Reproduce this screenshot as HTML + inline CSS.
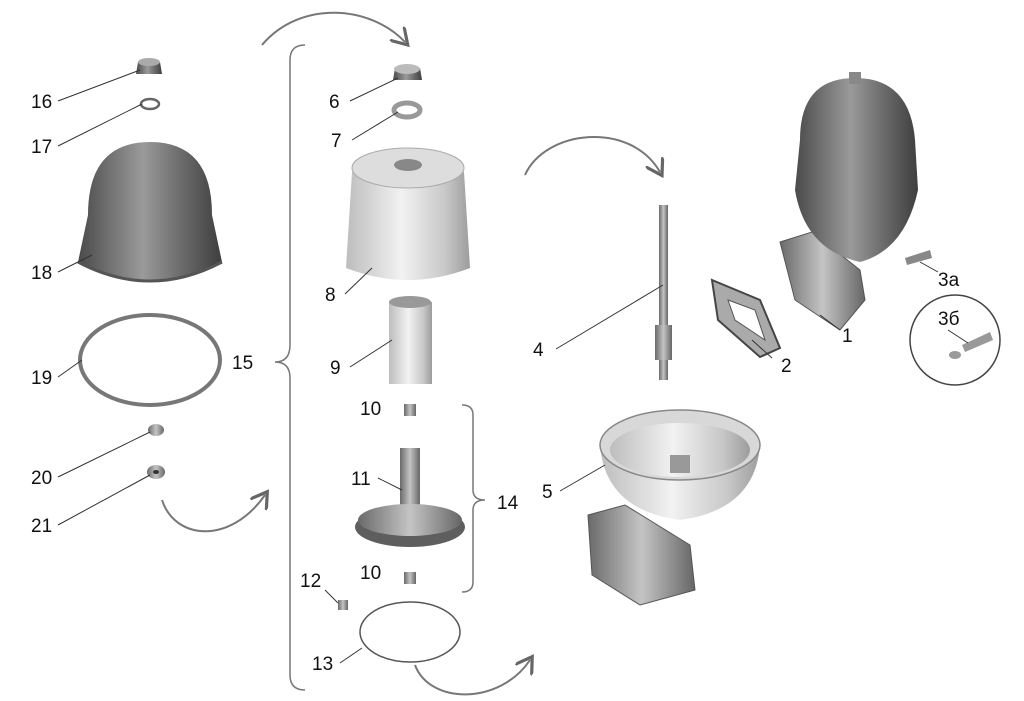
<!DOCTYPE html>
<html><head><meta charset="utf-8"><style>
html,body{margin:0;padding:0;background:#fff;}
svg{display:block;}
text{font-family:"Liberation Sans",sans-serif;font-size:19px;fill:#111;}
</style></head><body>
<svg width="1024" height="701" viewBox="0 0 1024 701" xmlns="http://www.w3.org/2000/svg">
<defs>
<linearGradient id="dk" x1="0" x2="1"><stop offset="0" stop-color="#4a4a4a"/><stop offset="0.45" stop-color="#9a9a9a"/><stop offset="0.7" stop-color="#6e6e6e"/><stop offset="1" stop-color="#3e3e3e"/></linearGradient>
<linearGradient id="lt" x1="0" x2="1"><stop offset="0" stop-color="#bdbdbd"/><stop offset="0.45" stop-color="#f2f2f2"/><stop offset="0.8" stop-color="#c8c8c8"/><stop offset="1" stop-color="#9c9c9c"/></linearGradient>
<linearGradient id="md" x1="0" x2="1"><stop offset="0" stop-color="#6a6a6a"/><stop offset="0.5" stop-color="#c4c4c4"/><stop offset="1" stop-color="#666"/></linearGradient>
<marker id="ah" markerWidth="10" markerHeight="10" refX="6" refY="5" orient="auto"><path d="M0,0 L8,5 L0,10" fill="none" stroke="#666" stroke-width="1.6"/></marker>
</defs>
<g fill="none" stroke="#777" stroke-width="2">
<path d="M262,45 C300,0 370,5 405,42" marker-end="url(#ah)"/>
<path d="M162,500 C175,540 230,545 265,495" marker-end="url(#ah)"/>
<path d="M525,175 C545,130 630,120 660,172" marker-end="url(#ah)"/>
<path d="M415,665 C430,705 500,705 530,660" marker-end="url(#ah)"/>
</g>
<g fill="none" stroke="#777" stroke-width="1.5">
<path d="M305,45 Q290,45 290,60 L290,345 Q290,362 275,362 Q290,362 290,378 L290,675 Q290,690 305,690"/>
<path d="M462,405 Q473,405 473,415 L473,490 Q473,500 485,500 Q473,500 473,510 L473,582 Q473,592 462,592"/>
</g>
<!-- left parts -->
<path d="M138,62 L160,62 L162,74 L136,74 Z" fill="url(#dk)"/><ellipse cx="149" cy="62" rx="11" ry="4" fill="#aaa"/>
<ellipse cx="150" cy="104" rx="9" ry="5" fill="none" stroke="#666" stroke-width="2.5"/>
<path d="M88,215 Q88,142 150,142 Q212,142 212,215 L222,262 Q150,300 78,262 Z" fill="url(#dk)"/>
<path d="M78,262 Q150,300 222,262" fill="none" stroke="#555" stroke-width="3"/>
<ellipse cx="150" cy="360" rx="70" ry="45" fill="none" stroke="#777" stroke-width="4"/>
<ellipse cx="156" cy="430" rx="8" ry="6" fill="url(#md)"/>
<ellipse cx="156" cy="472" rx="9" ry="7" fill="url(#md)"/><ellipse cx="156" cy="472" rx="3" ry="2" fill="#333"/>
<!-- center parts -->
<path d="M395,68 L420,68 L422,80 L393,80 Z" fill="url(#dk)"/><ellipse cx="407" cy="69" rx="13" ry="5" fill="#bbb"/>
<ellipse cx="407" cy="110" rx="13" ry="7" fill="none" stroke="#999" stroke-width="5"/>
<path d="M352,172 Q408,150 464,172 L470,268 Q408,292 346,268 Z" fill="url(#lt)"/>
<ellipse cx="408" cy="168" rx="56" ry="20" fill="#ddd" stroke="#aaa"/><ellipse cx="408" cy="165" rx="14" ry="6" fill="#888"/>
<rect x="389" y="302" width="43" height="82" fill="url(#lt)"/><ellipse cx="410" cy="302" rx="21" ry="6" fill="#999"/>
<rect x="404" y="404" width="12" height="12" fill="url(#md)"/>
<rect x="400" y="448" width="20" height="70" fill="url(#md)"/>
<ellipse cx="410" cy="527" rx="55" ry="20" fill="#5e5e5e"/><ellipse cx="410" cy="520" rx="52" ry="16" fill="url(#md)"/>
<rect x="404" y="572" width="12" height="12" fill="url(#md)"/>
<rect x="338" y="600" width="10" height="10" fill="url(#md)"/>
<ellipse cx="410" cy="632" rx="50" ry="30" fill="none" stroke="#555" stroke-width="1.5"/>
<!-- right parts -->
<rect x="659" y="205" width="9" height="175" fill="url(#md)"/><rect x="655" y="325" width="17" height="35" fill="url(#md)"/>
<path d="M712,280 L760,300 L780,348 L760,357 L718,320 Z" fill="#aaa" stroke="#444" stroke-width="2"/>
<path d="M728,300 L755,310 L765,340 L735,320 Z" fill="#fff" stroke="#555"/>
<path d="M780,242 L812,232 L860,270 L865,300 L840,330 L795,300 Z" fill="url(#md)" stroke="#555"/>
<path d="M800,140 Q800,78 855,78 Q910,78 915,140 L918,190 Q905,250 860,262 Q805,250 795,190 Z" fill="url(#dk)"/>
<rect x="849" y="72" width="12" height="12" fill="#888"/>
<path d="M905,258 L930,250 L932,258 L907,265 Z" fill="#888"/>
<circle cx="955" cy="340" r="45" fill="none" stroke="#444" stroke-width="1.5"/>
<path d="M962,345 L990,332 L993,340 L965,352 Z" fill="#999"/><ellipse cx="955" cy="355" rx="6" ry="4" fill="#999"/>
<path d="M588,515 L625,505 L690,545 L695,590 L640,605 L592,575 Z" fill="url(#md)" stroke="#555"/>
<path d="M600,445 Q605,510 680,520 Q755,510 760,445 Z" fill="url(#lt)"/>
<ellipse cx="680" cy="445" rx="80" ry="35" fill="#d8d8d8" stroke="#888" stroke-width="1.5"/>
<ellipse cx="680" cy="450" rx="70" ry="27" fill="url(#lt)"/><rect x="670" y="455" width="20" height="18" fill="#999"/>
<!-- leaders -->
<g stroke="#333" stroke-width="1" fill="none">
<path d="M58,101 L140,70"/><path d="M58,146 L142,104"/><path d="M58,272 L92,255"/><path d="M58,377 L82,360"/>
<path d="M58,477 L150,432"/><path d="M58,525 L150,475"/><path d="M350,101 L398,78"/><path d="M352,140 L398,112"/>
<path d="M345,294 L372,268"/><path d="M350,367 L392,340"/><path d="M378,478 L402,490"/><path d="M325,590 L338,603"/>
<path d="M340,663 L362,648"/><path d="M556,349 L663,285"/><path d="M772,358 L752,340"/><path d="M840,330 L820,315"/>
<path d="M938,272 L920,262"/><path d="M560,491 L605,465"/><path d="M948,330 L968,343"/>
</g>
<text x="31" y="108">16</text><text x="31" y="153">17</text><text x="31" y="279">18</text><text x="31" y="384">19</text>
<text x="31" y="484">20</text><text x="31" y="532">21</text><text x="232" y="369">15</text>
<text x="329" y="108">6</text><text x="331" y="147">7</text><text x="325" y="301">8</text><text x="330" y="374">9</text>
<text x="360" y="415">10</text><text x="351" y="485">11</text><text x="497" y="509">14</text><text x="360" y="579">10</text>
<text x="300" y="587">12</text><text x="312" y="670">13</text><text x="533" y="356">4</text><text x="781" y="372">2</text>
<text x="842" y="342">1</text><text x="938" y="286">3а</text><text x="938" y="325">3б</text><text x="542" y="498">5</text>
</svg>
</body></html>
